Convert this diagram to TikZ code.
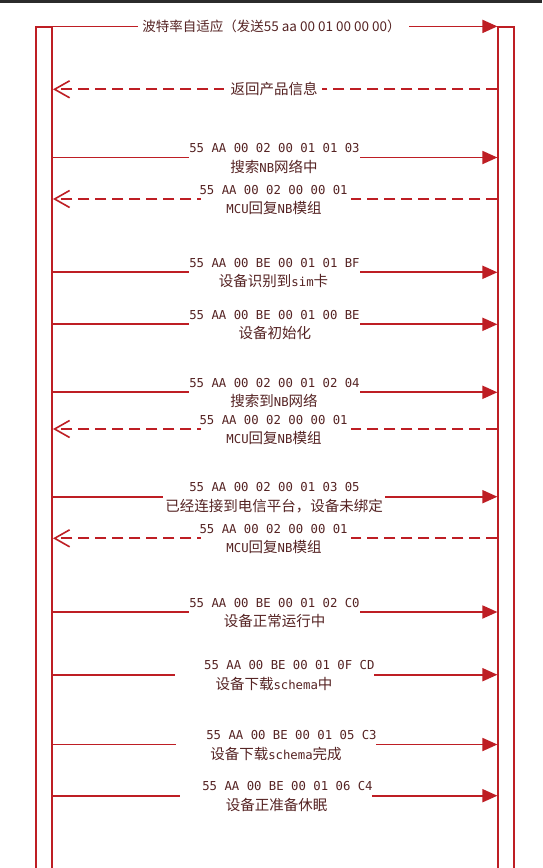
\documentclass[tikz,border=0pt]{standalone}
\usepackage{fontspec}
\setmainfont{Noto Sans CJK SC}
\newfontfamily\monof{DejaVu Sans Mono}
\usetikzlibrary{arrows.meta}
\definecolor{lred}{RGB}{190,30,36}
\definecolor{ltxt}{RGB}{85,35,35}
\definecolor{band}{RGB}{43,43,43}
\newcommand\hm[1]{{\monof\fontsize{12.3}{14}\selectfont #1}}
\tikzset{
  lifebar/.style={draw=lred, line width=1.8pt, minimum width=15.8pt, minimum height=900pt, anchor=north west, inner sep=0pt},
  sline/.style={draw=lred, line width=1.8pt, -{Triangle[length=15pt,width=13pt]}},
  dline/.style={draw=lred, line width=1.8pt, dash pattern=on 11pt off 6pt, -{Straight Barb[length=15pt,width=17pt,line width=1.6pt]}},
  gapbox/.style={fill=white, inner sep=0pt, minimum height=8pt},
  hexlbl/.style={text=ltxt, font=\monof\fontsize{12.3}{14}\selectfont, inner sep=0pt},
  cjklbl/.style={text=ltxt, font=\fontsize{14.5}{16}\selectfont, inner sep=0pt},
  toplbl/.style={text=ltxt, font=\fontsize{13.5}{15}\selectfont, inner sep=0pt},
}
% solid message: #1 name, #2 y, #3 gap left, #4 gap right, #5 x line1, #6 line1, #7 x line2, #8 line2
\newcommand\smsg[8]{%
  \coordinate (#1s) at (A.east |- 0,#2);
  \coordinate (#1e) at (B.west |- 0,#2);
  \draw[sline] (#1s) -- (#1e);
  \node[gapbox, minimum width={#4pt-#3pt}] (#1g) at ({(#3+#4)/2},#2) {};
  \node[hexlbl] (#1a) at (#5,#2-9.2) {#6};
  \node[cjklbl] (#1b) at (#7,#2+9) {#8};
}
\newcommand\dmsg[8]{%
  \coordinate (#1s) at (B.west |- 0,#2);
  \coordinate (#1e) at (A.east |- 0,#2);
  \draw[dline] (#1s) -- (#1e);
  \node[gapbox, minimum width={#4pt-#3pt}] (#1g) at ({(#3+#4)/2},#2) {};
  \node[hexlbl] (#1a) at (#5,#2-9.2) {#6};
  \node[cjklbl] (#1b) at (#7,#2+9) {#8};
}
\begin{document}
\begin{tikzpicture}[x=1pt,y=-1pt]
\path[use as bounding box] (0,0) rectangle (542,868);
\clip (0,0) rectangle (542,868);
\fill[white] (0,0) rectangle (542,868);
\fill[band] (0,0) rectangle (542,2.6);

% lifelines
\node[lifebar] (A) at (35.4,26.4) {};
\node[lifebar] (B) at (497.4,26.4) {};

% 1
\coordinate (m1s) at (A.east |- 0,26.4);
\coordinate (m1e) at (B.west |- 0,26.4);
\draw[sline] (m1s) -- (m1e);
\node[gapbox, minimum width=271pt] (m1g) at (273.5,26.4) {};
\node[toplbl] (m1a) at (271.5,26.4) {波特率自适应（发送55 aa 00 01 00 00 00）};

% 2
\coordinate (m2s) at (B.west |- 0,89.3);
\coordinate (m2e) at (A.east |- 0,89.3);
\draw[dline] (m2s) -- (m2e);
\node[gapbox, minimum width=98pt] (m2g) at (273,89.3) {};
\node[cjklbl] (m2a) at (274,89.3) {返回产品信息};

\smsg{m3}{157.5}{189}{359.5}{274.5}{55 AA 00 02 00 01 01 03}{274}{搜索\hm{NB}网络中}
\dmsg{m4}{199}{200.5}{351}{273.6}{55 AA 00 02 00 00 01}{274}{\hm{MCU}回复\hm{NB}模组}
\smsg{m5}{272.3}{189}{359.5}{274.5}{55 AA 00 BE 00 01 01 BF}{273.6}{设备识别到\hm{sim}卡}
\smsg{m6}{324.3}{189}{359.5}{274.5}{55 AA 00 BE 00 01 00 BE}{274.8}{设备初始化}
\smsg{m7}{392.3}{189}{359.5}{274.5}{55 AA 00 02 00 01 02 04}{274}{搜索到\hm{NB}网络}
\dmsg{m8}{429}{200.5}{351}{273.6}{55 AA 00 02 00 00 01}{274}{\hm{MCU}回复\hm{NB}模组}
\smsg{m9}{496.7}{162.5}{385}{274.5}{55 AA 00 02 00 01 03 05}{274}{已经连接到电信平台，设备未绑定}
\dmsg{m10}{538.3}{200.5}{351}{273.6}{55 AA 00 02 00 00 01}{274}{\hm{MCU}回复\hm{NB}模组}
\smsg{m11}{612}{189}{359.5}{274.5}{55 AA 00 BE 00 01 02 C0}{274.5}{设备正常运行中}
\smsg{m12}{674.7}{174.6}{374}{289.3}{55 AA 00 BE 00 01 0F CD}{274}{设备下载\hm{schema}中}
\smsg{m13}{744.5}{176}{376}{291.5}{55 AA 00 BE 00 01 05 C3}{276}{设备下载\hm{schema}完成}
\smsg{m14}{795.7}{180}{372}{287.5}{55 AA 00 BE 00 01 06 C4}{276.5}{设备正准备休眠}
\end{tikzpicture}
\end{document}
